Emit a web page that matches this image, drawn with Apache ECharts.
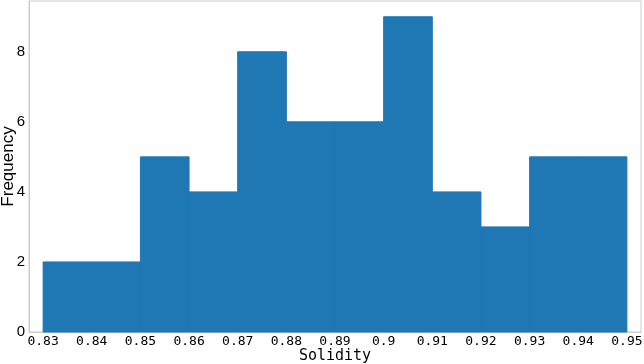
<!DOCTYPE html>
<html>
<head>
<meta charset="utf-8">
<script src="https://cdn.jsdelivr.net/npm/echarts@6/dist/echarts.min.js"></script>
<style>html,body{margin:0;padding:0;background:#fff}#c{width:644px;height:364px}</style>
</head>
<body>
<div id="c"></div>
<script>
const binEdges = [0.83,0.84,0.85,0.86,0.87,0.88,0.89,0.90,0.91,0.92,0.93,0.94,0.95];
const counts = [2,2,5,4,8,6,6,9,4,3,5,5];
const xTickValues = [0.83,0.84,0.85,0.86,0.87,0.88,0.89,0.90,0.91,0.92,0.93,0.94,0.95];
const xTickLabels = ['0.83','0.84','0.85','0.86','0.87','0.88','0.89','0.9','0.91','0.92','0.93','0.94','0.95'];
const yTickValues = [0,2,4,6,8];

const data = counts.map((c,i)=>[binEdges[i], binEdges[i+1], c]);
const chart = echarts.init(document.getElementById('c'), null, {renderer:'canvas'});
chart.setOption({
  animation:false,
  grid:{left:29,right:3,top:1,bottom:32,outerBoundsMode:'none',containLabel:false,show:true,borderColor:'#cccccc',borderWidth:1,backgroundColor:'#fff'},
  xAxis:{type:'value',min:0.8271,max:0.9529,
    name:'Solidity',nameLocation:'middle',nameGap:17,nameMoveOverlap:false,
    nameTextStyle:{fontFamily:'DejaVu Sans Mono',fontSize:15,color:'#000',verticalAlign:'top'},
    axisLine:{show:true,lineStyle:{color:'#cccccc'}},
    axisTick:{show:false},splitLine:{show:false},
    axisLabel:{customValues:xTickValues,margin:3,fontFamily:'DejaVu Sans Mono',fontSize:13,color:'#000',
      formatter:v=>{const i=xTickValues.findIndex(t=>Math.abs(t-v)<1e-6);return i>=0?xTickLabels[i]:'';}}
  },
  yAxis:{type:'value',min:0,max:9.45,
    name:'Frequency',nameLocation:'middle',nameGap:12,nameMoveOverlap:false,
    nameTextStyle:{fontFamily:'Liberation Sans',fontSize:17,color:'#000'},
    axisLine:{show:true,lineStyle:{color:'#cccccc'}},
    axisTick:{show:false},splitLine:{show:false},
    axisLabel:{customValues:yTickValues,margin:4,fontFamily:'Liberation Sans',fontSize:15,color:'#000'}
  },
  series:[{type:'custom',data:data,
    encode:{x:[0,1],y:2},
    renderItem:function(params,api){
      const p0=api.coord([api.value(0),0]);
      const p1=api.coord([api.value(1),api.value(2)]);
      return {type:'rect',shape:{x:p0[0],y:p1[1],width:p1[0]-p0[0],height:p0[1]-p1[1]},
        style:{fill:'#1f77b4',stroke:'#1f77b4',lineWidth:1}};
    }
  }]
});
</script>
</body>
</html>
